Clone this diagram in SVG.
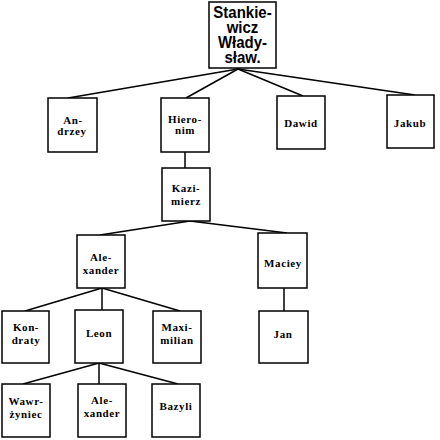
<svg xmlns="http://www.w3.org/2000/svg" width="440" height="440" viewBox="0 0 440 440">
<style>
.box{fill:#fff;stroke:#000;stroke-width:1.5}
.t{font-family:"Liberation Serif",serif;font-weight:bold;font-size:11px;letter-spacing:0.6px;text-anchor:middle;fill:#000}
.r{font-family:"Liberation Sans",Arial,sans-serif;font-weight:bold;font-size:15px;text-anchor:middle;fill:#000}
#edges line{stroke:#000;stroke-width:1.5}
</style>
<rect width="440" height="440" fill="#fff"/>
<g id="edges">
<line x1="238" y1="69" x2="68" y2="98"/>
<line x1="238" y1="69" x2="186" y2="98"/>
<line x1="238" y1="69" x2="303" y2="96"/>
<line x1="238" y1="69" x2="415" y2="95"/>
<line x1="185" y1="152" x2="185" y2="168"/>
<line x1="190" y1="221" x2="100" y2="235"/>
<line x1="190" y1="221" x2="287" y2="233"/>
<line x1="102" y1="288" x2="25" y2="311"/>
<line x1="102" y1="288" x2="102" y2="310"/>
<line x1="102" y1="288" x2="180" y2="311"/>
<line x1="284" y1="288" x2="284" y2="311"/>
<line x1="99" y1="363" x2="23" y2="384"/>
<line x1="99" y1="363" x2="99" y2="384"/>
<line x1="99" y1="363" x2="178" y2="384"/>
</g>
<g id="root"><rect class="box" x="209" y="2" width="67" height="66"/>
<g transform="translate(242.5,0) scale(1,1.14)">
<text class="r" x="0" y="15.8">Stankie-</text><text class="r" x="0" y="28.9">wicz</text><text class="r" x="0" y="42.1">Włady-</text><text class="r" x="0" y="55.3">sław.</text></g></g>
<g id="andrzey"><rect class="box" x="48" y="98" width="49" height="54"/><text class="t" x="73" y="124">An-</text><text class="t" x="72" y="135">drzey</text></g>
<g id="hieronim"><rect class="box" x="161" y="98" width="48" height="54"/><text class="t" x="185" y="123">Hiero-</text><text class="t" x="185" y="134">nim</text></g>
<g id="dawid"><rect class="box" x="277" y="96" width="48" height="53"/><text class="t" x="301" y="127">Dawid</text></g>
<g id="jakub"><rect class="box" x="387" y="95" width="47" height="53"/><text class="t" x="410" y="127">Jakub</text></g>
<g id="kazimierz"><rect class="box" x="162" y="168" width="48" height="53"/><text class="t" x="186" y="192">Kazi-</text><text class="t" x="186" y="205">mierz</text></g>
<g id="alexander"><rect class="box" x="77" y="235" width="48" height="53"/><text class="t" x="101" y="261">Ale-</text><text class="t" x="101" y="274">xander</text></g>
<g id="maciey"><rect class="box" x="258" y="233" width="49" height="55"/><text class="t" x="283" y="267">Maciey</text></g>
<g id="kondraty"><rect class="box" x="2" y="311" width="47" height="52"/><text class="t" x="26" y="331">Kon-</text><text class="t" x="26" y="344">draty</text></g>
<g id="leon"><rect class="box" x="75" y="310" width="48" height="53"/><text class="t" x="99" y="337">Leon</text></g>
<g id="maximilian"><rect class="box" x="153" y="311" width="48" height="52"/><text class="t" x="177" y="331">Maxi-</text><text class="t" x="177" y="344">milian</text></g>
<g id="jan"><rect class="box" x="259" y="311" width="49" height="52"/><text class="t" x="283" y="338">Jan</text></g>
<g id="wawrzyniec"><rect class="box" x="2" y="384" width="48" height="53"/><text class="t" x="26" y="405">Wawr-</text><text class="t" x="26" y="418">żyniec</text></g>
<g id="alexander2"><rect class="box" x="78" y="384" width="48" height="53"/><text class="t" x="102" y="404">Ale-</text><text class="t" x="102" y="417">xander</text></g>
<g id="bazyli"><rect class="box" x="152" y="384" width="48" height="53"/><text class="t" x="176" y="410">Bazyli</text></g>
</svg>
